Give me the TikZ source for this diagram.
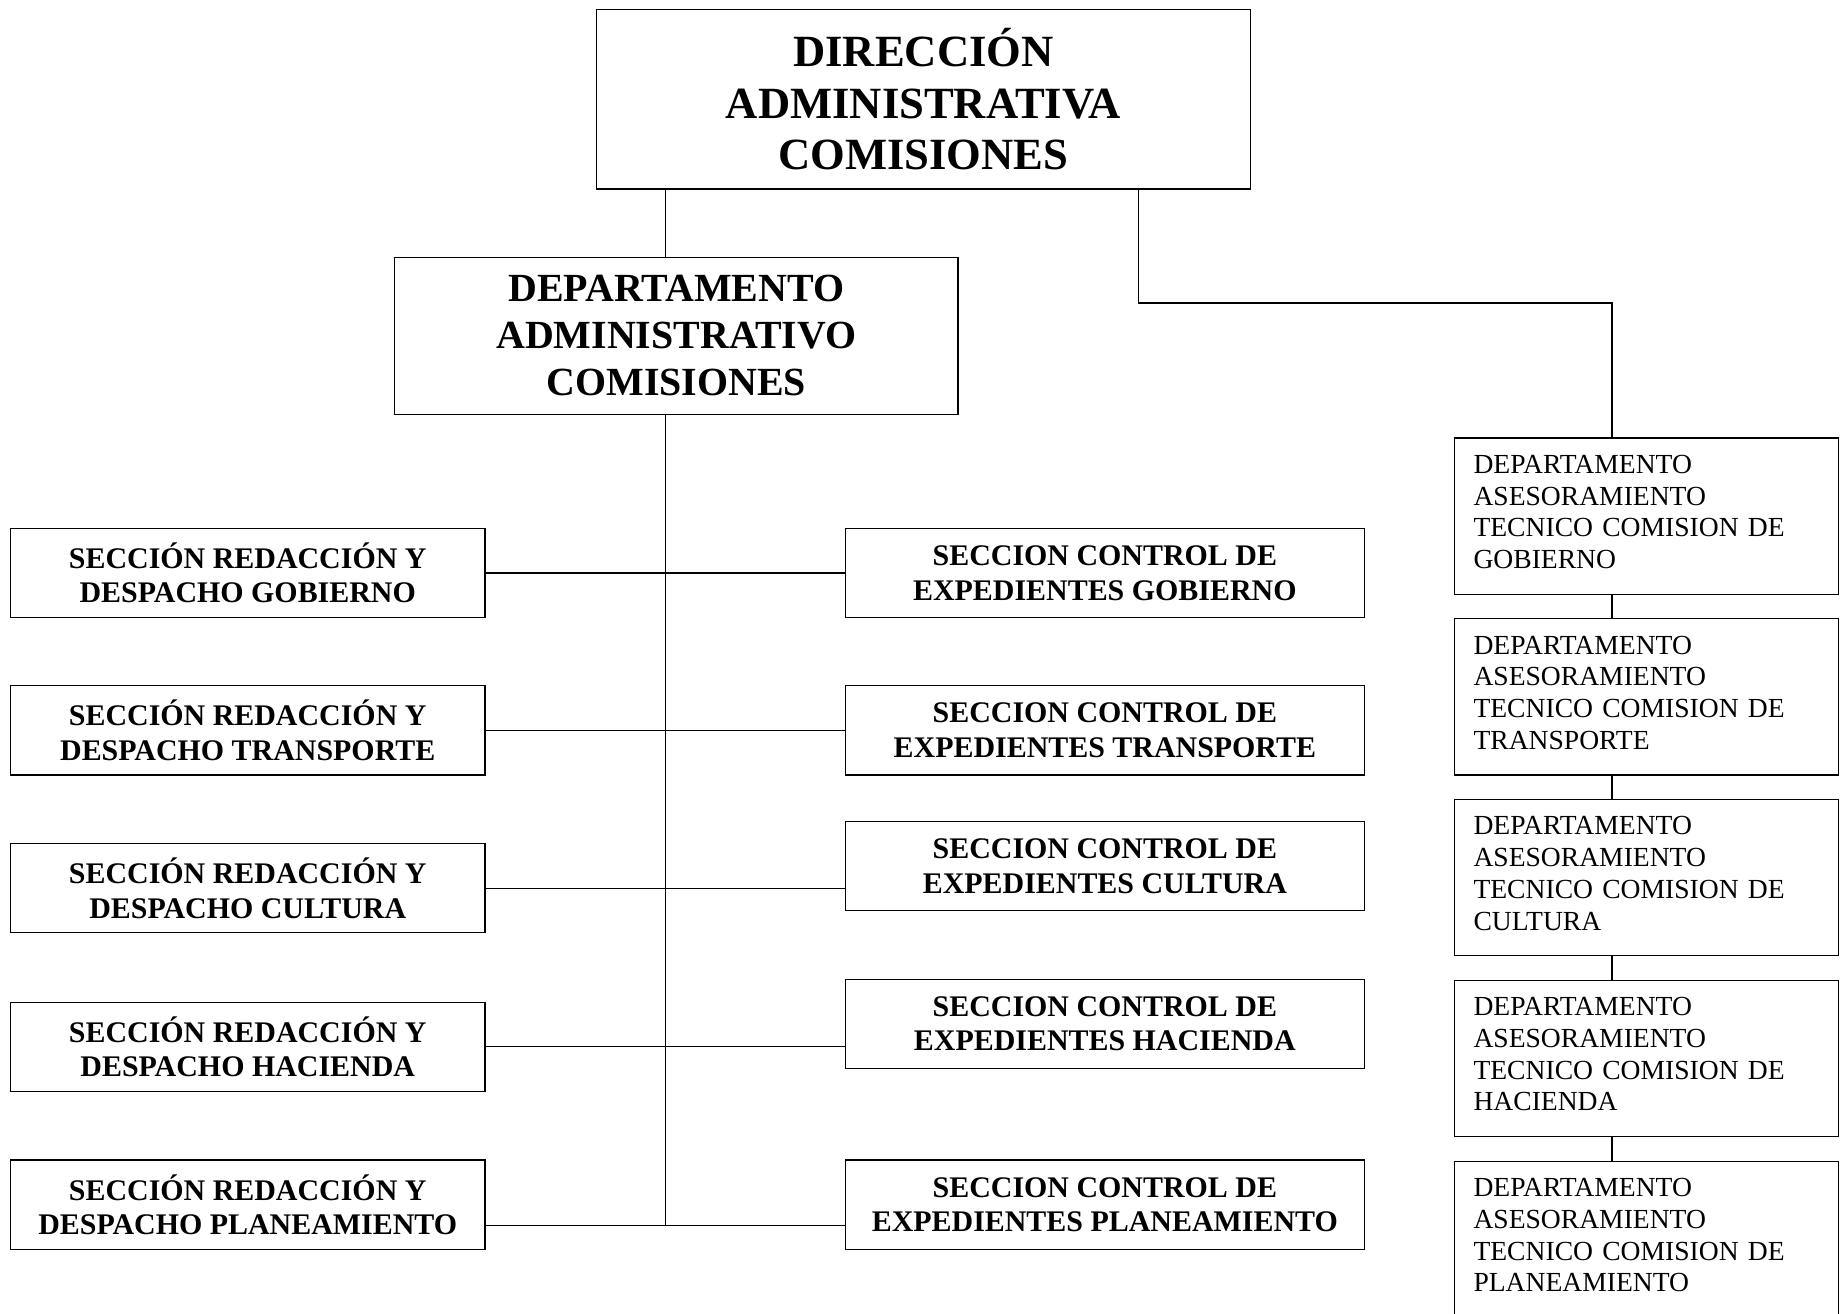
\documentclass[tikz,border=0pt]{standalone}
\usepackage{fontspec}
\setmainfont{Liberation Serif}
\newcommand{\bottompad}{\par\vskip 7pt\hrule height 0pt width 0pt}
\begin{document}
\begin{tikzpicture}[x=1pt,y=-1pt,
  every node/.style={line width=1pt},
  box/.style={draw, inner sep=0pt, align=center},
  topbox/.style={box, minimum width=557pt, minimum height=153pt, font=\fontsize{38}{44}\selectfont\bfseries},
  deptbox/.style={box, minimum width=480pt, minimum height=134pt, font=\fontsize{34}{40}\selectfont\bfseries},
  lbox/.style={box, minimum width=404pt, minimum height=76pt, font=\fontsize{25.5}{29.5}\selectfont\bfseries},
  mbox/.style={box, minimum width=442pt, minimum height=76pt, font=\fontsize{25.5}{29.5}\selectfont\bfseries},
  rbox/.style={draw, inner xsep=16pt, inner ysep=0pt, text width=295pt, align=left, minimum height=133pt, font=\fontsize{23.5}{27}\selectfont},
  conn/.style={line width=1pt}]
\useasboundingbox (0,0) rectangle (1568,1119);

\node[topbox] (top) at (786.5,84.5) {DIRECCIÓN\\ADMINISTRATIVA\\COMISIONES};
\node[deptbox] (dept) at (576,286) {DEPARTAMENTO\\ADMINISTRATIVO\\COMISIONES};

\node[lbox] (l1) at (211,488) {SECCIÓN REDACCIÓN Y\\DESPACHO GOBIERNO};
\node[lbox] (l2) at (211,622) {SECCIÓN REDACCIÓN Y\\DESPACHO TRANSPORTE};
\node[lbox] (l3) at (211,756.5) {SECCIÓN REDACCIÓN Y\\DESPACHO CULTURA};
\node[lbox] (l4) at (211,891.5) {SECCIÓN REDACCIÓN Y\\DESPACHO HACIENDA};
\node[lbox] (l5) at (211,1026) {SECCIÓN REDACCIÓN Y\\DESPACHO PLANEAMIENTO};

\node[mbox] (m1) at (941,488) {SECCION CONTROL DE\\EXPEDIENTES GOBIERNO};
\node[mbox] (m2) at (941,622) {SECCION CONTROL DE\\EXPEDIENTES TRANSPORTE};
\node[mbox] (m3) at (941,737.5) {SECCION CONTROL DE\\EXPEDIENTES CULTURA};
\node[mbox] (m4) at (941,872) {SECCION CONTROL DE\\EXPEDIENTES HACIENDA};
\node[mbox] (m5) at (941,1026) {SECCION CONTROL DE\\EXPEDIENTES PLANEAMIENTO};

\node[rbox] (r1) at (1402.5,439.5) {DEPARTAMENTO\\ASESORAMIENTO\\TECNICO COMISION DE\\GOBIERNO\bottompad};
\node[rbox] (r2) at (1402.5,593.5) {DEPARTAMENTO\\ASESORAMIENTO\\TECNICO COMISION DE\\TRANSPORTE\bottompad};
\node[rbox] (r3) at (1402.5,747.5) {DEPARTAMENTO\\ASESORAMIENTO\\TECNICO COMISION DE\\CULTURA\bottompad};
\node[rbox] (r4) at (1402.5,901.5) {DEPARTAMENTO\\ASESORAMIENTO\\TECNICO COMISION DE\\HACIENDA\bottompad};
\node[rbox] (r5) at (1402.5,1055.5) {DEPARTAMENTO\\ASESORAMIENTO\\TECNICO COMISION DE\\PLANEAMIENTO\bottompad};

\coordinate (spine) at (567,1044);
\coordinate (rj) at (1373,258);

\draw[conn] (top.south -| spine) -- (dept.north -| spine);
\draw[conn] (dept.south -| spine) -- (spine);
\draw[conn] ([xshift=183.5pt]top.south) |- (rj) -- (rj |- r1.north);
\draw[conn] (r1.south -| rj) -- (r2.north -| rj);
\draw[conn] (r2.south -| rj) -- (r3.north -| rj);
\draw[conn] (r3.south -| rj) -- (r4.north -| rj);
\draw[conn] (r4.south -| rj) -- (r5.north -| rj);

\draw[conn] (l1.east) -- (m1.west);
\draw[conn] (l2.east) -- (m2.west);
\draw[conn] (l3.east) -- (l3.east -| m3.west);
\draw[conn] (l4.east) -- (l4.east -| m4.west);
\draw[conn] (l5.east |- spine) -- (m5.west |- spine);
\end{tikzpicture}
\end{document}
